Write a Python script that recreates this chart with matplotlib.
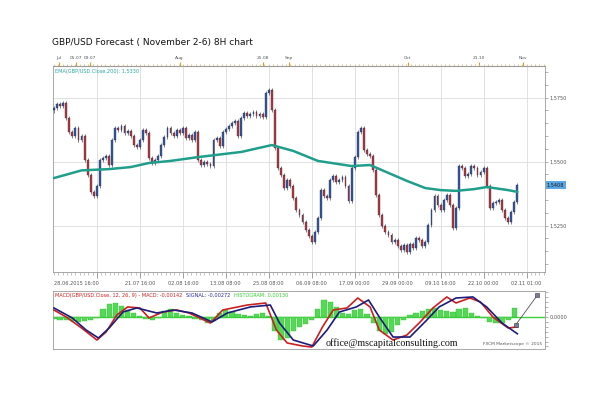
"""GBP/USD 8H chart with EMA(200) and MACD panel, rebuilt with matplotlib."""

import matplotlib
matplotlib.use("Agg")
import matplotlib.pyplot as plt
import numpy as np
from matplotlib.ticker import FixedLocator, MultipleLocator, FuncFormatter

W, H = 600, 396

# 8H closes, one per candle (opens are the previous close)
first_open = 1.5700
closes = [
    1.5710, 1.5725, 1.5718, 1.5729, 1.5671, 1.5616, 1.5600, 1.5632, 1.5585, 1.5600,
    1.5507, 1.5448, 1.5382, 1.5366, 1.5405, 1.5507, 1.5514, 1.5522, 1.5487, 1.5585,
    1.5632, 1.5624, 1.5639, 1.5612, 1.5620, 1.5600, 1.5565, 1.5557, 1.5585, 1.5624,
    1.5612, 1.5514, 1.5495, 1.5507, 1.5522, 1.5565, 1.5596, 1.5632, 1.5612, 1.5600,
    1.5624, 1.5612, 1.5632, 1.5593, 1.5604, 1.5585, 1.5616, 1.5507, 1.5487, 1.5499,
    1.5491, 1.5483, 1.5585, 1.5593, 1.5561, 1.5616, 1.5628, 1.5639, 1.5651, 1.5659,
    1.5600, 1.5671, 1.5690, 1.5679, 1.5686, 1.5694, 1.5679, 1.5686, 1.5675, 1.5768,
    1.5780, 1.5702, 1.5554, 1.5475, 1.5448, 1.5397, 1.5429, 1.5405, 1.5358, 1.5311,
    1.5292, 1.5264, 1.5233, 1.5210, 1.5186, 1.5225, 1.5280, 1.5389, 1.5366, 1.5358,
    1.5429, 1.5444, 1.5421, 1.5429, 1.5440, 1.5405, 1.5346, 1.5475, 1.5518, 1.5616,
    1.5632, 1.5546, 1.5530, 1.5522, 1.5468, 1.5370, 1.5292, 1.5249, 1.5225, 1.5214,
    1.5186, 1.5194, 1.5171, 1.5155, 1.5175, 1.5147, 1.5179, 1.5163, 1.5202, 1.5194,
    1.5171, 1.5186, 1.5253, 1.5311, 1.5366, 1.5331, 1.5311, 1.5350, 1.5370, 1.5331,
    1.5241, 1.5319, 1.5483, 1.5475, 1.5444, 1.5452, 1.5483, 1.5475, 1.5448, 1.5460,
    1.5475, 1.5405, 1.5319, 1.5339, 1.5343, 1.5350, 1.5311, 1.5280, 1.5264, 1.5304,
    1.5343, 1.5408,
]

# EMA(200) read at a few candles
ema_idx = [0, 9, 18, 25, 31, 38, 47, 61, 71, 78, 86, 97, 103, 109, 115, 121,
           126, 131, 137, 141, 148, 151]
ema_val = [1.5436, 1.5466, 1.5471, 1.5479, 1.5495, 1.5503, 1.5518, 1.5538, 1.5565,
           1.5542, 1.5503, 1.5483, 1.5487, 1.5456, 1.5425, 1.5397, 1.5389, 1.5386,
           1.5393, 1.5401, 1.5389, 1.5382]

# MACD(12, 26, 9)
macd_idx = [0, 4, 9, 14, 17, 20.5, 24, 28, 31, 35.5, 40, 44, 51, 55, 63, 69, 72.5,
            76, 81, 84, 87.5, 91, 95.5, 99, 103, 106, 110.5, 115, 119, 123.5, 128,
            131, 135.5, 139, 143, 148, 151]
macd_val = [0.0010, 0.0000, -0.00157, -0.00329, -0.00214, 0.00029, 0.00143, 0.00129,
            -0.00014, 0.00071, 0.0010, 0.00057, -0.00086, 0.0010, 0.00171, 0.0020,
            -0.00186, -0.00371, -0.00414, -0.00429, -0.00143, 0.0010, 0.00129,
            0.00271, 0.00143, -0.00186, -0.00329, -0.00257, -0.00086, 0.00129,
            0.00286, 0.0020, 0.00271, 0.00214, 0.0, -0.00157, -0.00142]
signal_idx = [0, 6, 10.5, 14.5, 18, 22.5, 27, 33.5, 39, 45, 51.5, 56.5, 64, 70.5,
              73.5, 78, 84.5, 89, 93, 98.5, 102.5, 106, 110.5, 116, 121.5, 125.5,
              131, 136.5, 141, 146, 151]
signal_val = [0.00129, -0.00014, -0.00186, -0.0030, -0.00157, 0.00071, 0.00129,
              0.00057, 0.0010, 0.00057, -0.00071, 0.00057, 0.00143, 0.00171,
              -0.00086, -0.00329, -0.00414, -0.00186, 0.00071, 0.00143, 0.00243,
              0.0, -0.00286, -0.00286, -0.00043, 0.00143, 0.00271, 0.00286,
              0.00143, -0.00086, -0.0024]
# histogram, one bar every second candle
hist_val = [
    -0.0003, -0.0004, -0.0005, -0.0006, -0.0007, -0.0006, -0.0005, -0.0002, 0.0012, 0.0018,
    0.0020, 0.0016, 0.0010, 0.0005, 0.0002, -0.0003, -0.0005, -0.0002, 0.0008, 0.0011,
    0.0006, 0.0003, 0.0001, -0.0003, -0.0005, -0.0008, -0.0006, 0.0006, 0.0010, 0.0007,
    0.0004, 0.0003, 0.0002, 0.0004, 0.0005, 0.0002, -0.0020, -0.0033, -0.0030, -0.0020,
    -0.0015, -0.0010, -0.0004, 0.0012, 0.0024, 0.0022, 0.0014, 0.0006, 0.0004, 0.0010,
    0.0011, 0.0004, -0.0008, -0.0020, -0.0025, -0.0022, -0.0012, -0.0004, 0.0003, 0.0006,
    0.0009, 0.0012, 0.0013, 0.0010, 0.0008, 0.0007, 0.0012, 0.0013, 0.0006, 0.0002,
    -0.0002, -0.0007, -0.0009, -0.0008, -0.0005, 0.0013,
]
# hand-drawn trend line at the right end of the MACD panel
trend_idx = [150.5, 157.5]
trend_val = [-0.0011, 0.0031]

bottom_labels = ["28.06.2015 16:00", "21.07 16:00", "02.08 16:00", "13.08 08:00",
                 "25.08 08:00", "06.09 08:00", "17.09 00:00", "29.09 00:00",
                 "09.10 16:00", "22.10 00:00", "02.11 01:00"]
top_labels = ["Jul", "05.07", "09.07", "Aug", "25.08", "Sep", "Oct", "21.10", "Nov"]
top_label_idx = [1.6, 7.2, 11.7, 41, 68, 76.5, 115.3, 138.4, 152.8]
price_ticks = [1.525, 1.550, 1.575]

UP, DOWN = "#2f5aa3", "#b8383a"
GRID = "#dcdcdc"
SMALL = 3.6


def rect(x0, y0, x1, y1):
    """Pixel box (top-left origin) -> figure fraction rect."""
    return [x0 / W, 1 - y1 / H, (x1 - x0) / W, (y1 - y0) / H]


def comma(v, _=None, nd=4):
    return f"{v:.{nd}f}".replace(".", ",")


fig = plt.figure(figsize=(W / 100, H / 100), dpi=100)
fig.patch.set_facecolor("white")

ax = fig.add_axes(rect(53, 66, 545, 272))
axm = fig.add_axes(rect(53, 291, 545, 349))

n = len(closes)
x = np.arange(n)
opens = np.array([first_open] + closes[:-1])
cl = np.array(closes)
up = cl >= opens
top = np.maximum(opens, cl)
bot = np.minimum(opens, cl)
colors = np.where(up, UP, DOWN)

# candles
ax.vlines(x, bot - 0.0009, top + 0.0009, colors="#3a3a55", lw=0.45, zorder=2)
ax.bar(x, np.maximum(top - bot, 0.0002), bottom=bot, width=0.6, color=colors,
       edgecolor="#2b2b40", lw=0.25, zorder=3)
ax.plot(ema_idx, ema_val, color="#1f9e8c", lw=1.8, zorder=4, solid_capstyle="round")

xmin, xmax = -0.3, 160
major_x = list(range(14, 160, 14))
for a in (ax, axm):
    a.set_xlim(xmin, xmax)
    for s in a.spines.values():
        s.set_color("#9a9a9a")
        s.set_linewidth(0.6)

ax.set_ylim(1.50691, 1.58738)
ax.xaxis.set_major_locator(FixedLocator(major_x))
ax.xaxis.set_minor_locator(MultipleLocator(1.4))
ax.set_xticklabels([])
ax.tick_params(axis="x", which="major", length=4, width=0.5, color="#777777")
ax.tick_params(axis="x", which="minor", length=2, width=0.4, color="#999999")
ax.grid(True, axis="x", which="major", color=GRID, lw=0.6, zorder=0)
ax.yaxis.tick_right()
ax.yaxis.set_major_locator(FixedLocator(price_ticks))
ax.yaxis.set_minor_locator(MultipleLocator(0.005))
ax.yaxis.set_major_formatter(FuncFormatter(comma))
ax.tick_params(axis="y", which="both", labelsize=SMALL, length=2, width=0.4,
               color="#777777", pad=1, labelcolor="#555555")
ax.grid(True, axis="y", which="major", color=GRID, lw=0.6, zorder=0)

# date labels under the price panel
for k, lab in enumerate(bottom_labels):
    xi = 0 if k == 0 else major_x[k]
    ax.text(xi, -0.055, lab, transform=ax.get_xaxis_transform(), fontsize=SMALL,
            color="#555555", ha="left" if k == 0 else "center", va="center")

# top calendar strip
sec = ax.secondary_xaxis("top")
sec.xaxis.set_major_locator(FixedLocator(top_label_idx))
sec.xaxis.set_minor_locator(MultipleLocator(1.4))
sec.set_xticklabels(top_labels)
sec.tick_params(axis="x", which="major", length=3, width=0.8, color="#e0a020",
                labelsize=3.2, pad=1, labelcolor="#555555")
sec.tick_params(axis="x", which="minor", length=1.8, width=0.5, color="#d9b060")
sec.spines["top"].set_color("#9a9a9a")

ax.text(0.004, 0.985, "EMA(GBP/USD.Close,200): 1,5330", transform=ax.transAxes,
        fontsize=SMALL, color="#2aa6a0", ha="left", va="top")

# last price tag
ax.text(1.004, closes[-1], comma(closes[-1]), transform=ax.get_yaxis_transform(),
        fontsize=SMALL, color="#1a1a1a", ha="left", va="center", zorder=6,
        bbox=dict(boxstyle="square,pad=0.25", fc="#5aa7e6", ec="none"), clip_on=False)

# MACD panel
hist_idx = np.arange(0, 2 * len(hist_val), 2)
axm.bar(hist_idx, hist_val, width=1.7, color="#55d855", edgecolor="#33bb33",
        lw=0.25, zorder=2)
axm.axhline(0, color="#3bd13b", lw=1.0, zorder=1)
axm.plot(macd_idx, macd_val, color="#cc2020", lw=1.2, zorder=3)
axm.plot(signal_idx, signal_val, color="#1c1c7a", lw=1.2, zorder=4)
axm.plot(trend_idx, trend_val, color="#555555", lw=0.6, marker="s", ms=2.2,
         mfc="#7a7a9a", mec="#333333", mew=0.4, zorder=5)
axm.set_ylim(-0.00457, 0.00371)
axm.set_xticks([])
axm.yaxis.tick_right()
axm.yaxis.set_major_locator(FixedLocator([0.0]))
axm.yaxis.set_minor_locator(MultipleLocator(0.0007))
axm.yaxis.set_major_formatter(FuncFormatter(lambda v, _: comma(v)))
axm.tick_params(axis="y", which="both", labelsize=SMALL, length=2, width=0.4,
                color="#777777", pad=1, labelcolor="#555555")

legend_parts = [("MACD(GBP/USD.Close, 12, 26, 9) - MACD: -0,00142", "#cc2020"),
                ("SIGNAL: -0,00272", "#2a2a9a"),
                ("HISTOGRAM: 0,00130", "#2fcf2f")]
tx = 0.004
for txt, col in legend_parts:
    t = axm.text(tx, 0.97, txt, transform=axm.transAxes, fontsize=SMALL, color=col,
                 ha="left", va="top")
    fig.canvas.draw()
    bb = t.get_window_extent().transformed(axm.transAxes.inverted())
    tx = bb.x1 + 0.008

axm.text(0.555, 0.1, "office@mscapitalconsulting.com", transform=axm.transAxes,
         fontsize=7.2, family="Liberation Serif", color="#111111", ha="left",
         va="center", zorder=6)
axm.text(0.995, 0.06, "FXCM Marketscope \u00a9 2015", transform=axm.transAxes,
         fontsize=3.2, color="#555555", ha="right", va="bottom")

fig.text(52 / W, 1 - 42 / H, "GBP/USD Forecast ( November 2-6) 8H chart",
         fontsize=6.5, color="#111111", ha="left", va="center")

fig.savefig("out.png", dpi=100)
plt.close(fig)
